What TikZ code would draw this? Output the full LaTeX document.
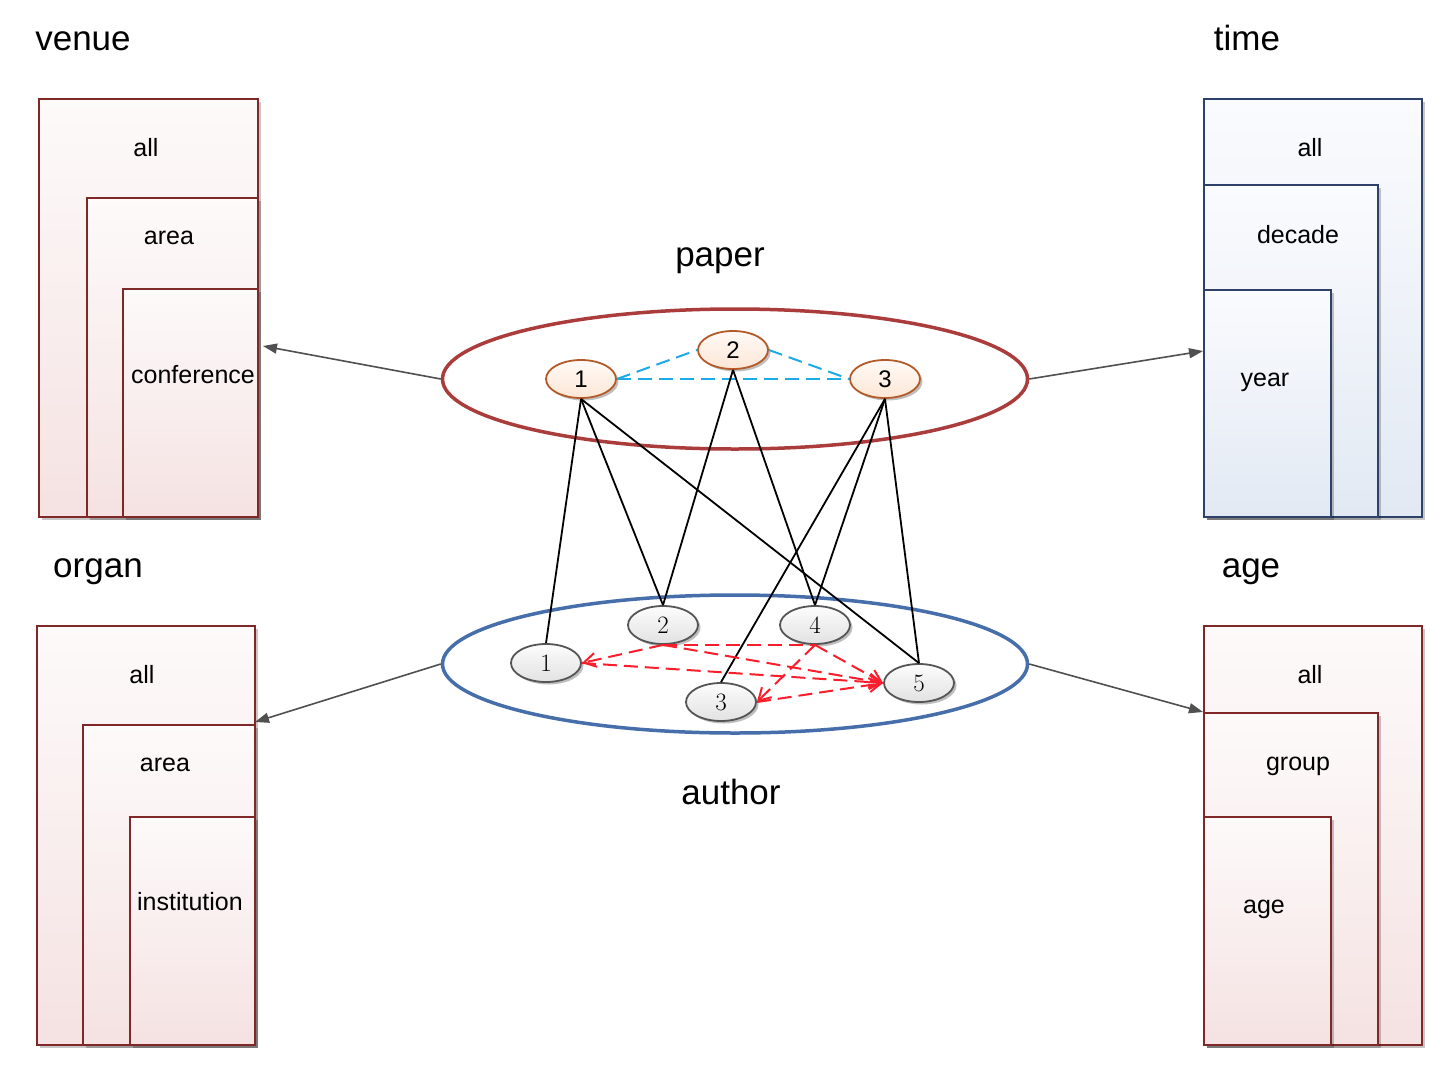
\documentclass[tikz,border=0pt]{standalone}
\usepackage{fontspec}
\setsansfont{Liberation Sans}
\usetikzlibrary{shapes.geometric,arrows.meta,shadows,calc}
\definecolor{boxred}{RGB}{128,40,40}
\definecolor{boxblue}{RGB}{45,65,105}
\definecolor{rtop}{RGB}{253,250,250}
\definecolor{rbot}{RGB}{245,226,226}
\definecolor{btop}{RGB}{250,251,254}
\definecolor{bbot}{RGB}{226,233,243}
\definecolor{pred}{RGB}{170,60,60}
\definecolor{ablue}{RGB}{70,110,170}
\definecolor{porange}{RGB}{180,90,40}
\definecolor{ptop}{RGB}{255,250,246}
\definecolor{pbot}{RGB}{252,230,214}
\definecolor{agray}{RGB}{85,85,85}
\definecolor{atop}{RGB}{252,252,252}
\definecolor{abot}{RGB}{226,226,226}
\definecolor{dred}{RGB}{250,30,45}
\definecolor{dblue}{RGB}{30,170,230}
\definecolor{arrgray}{RGB}{80,80,80}
\begin{document}
\begin{tikzpicture}[x=1pt,y=-1pt,
  boxbase/.style={line width=2pt, anchor=north west, inner sep=0pt,
    drop shadow={shadow xshift=2.5pt,shadow yshift=-2.5pt,opacity=0.22,fill=black}},
  rbox/.style={boxbase, draw=boxred, top color=rtop, bottom color=rbot},
  bbox/.style={boxbase, draw=boxblue, top color=btop, bottom color=bbot},
  title/.style={font=\sffamily\fontsize{35}{40}\selectfont},
  lab/.style={font=\sffamily\fontsize{25}{30}\selectfont},
  pnode/.style={ellipse, draw=porange, line width=1.8pt, top color=ptop, bottom color=pbot,
    minimum width=70pt, minimum height=38pt, inner sep=0pt,
    font=\sffamily\fontsize{24}{28}\selectfont,
    drop shadow={shadow xshift=2.5pt,shadow yshift=-2.5pt,opacity=0.25,fill=black}},
  anode/.style={ellipse, draw=agray, line width=1.8pt, top color=atop, bottom color=abot,
    minimum width=70pt, minimum height=38pt, inner sep=0pt,
    font=\fontsize{25}{29}\selectfont,
    drop shadow={shadow xshift=2.5pt,shadow yshift=-2.5pt,opacity=0.25,fill=black}},
  garrow/.style={draw=arrgray, line width=1.6pt, -{Triangle[length=14pt,width=10pt]}},
  bline/.style={draw=black, line width=1.8pt},
  reddash/.style={draw=dred, line width=2pt, dash pattern=on 14pt off 7pt},
  redarr/.style={reddash, -{Straight Barb[length=12pt,width=14pt,line width=2pt]}},
  bluedash/.style={draw=dblue, line width=2pt, dash pattern=on 14pt off 7pt},
]
\useasboundingbox (0,0) rectangle (1456,1076);
\fill[white] (0,0) rectangle (1456,1076);

% ---------- venue ----------
\node[title] (tvenue) at (83,41) {venue};
\node[rbox, minimum width=219pt, minimum height=418pt] (v1) at (38,98) {};
\node[rbox, minimum width=171pt, minimum height=319pt] (v2) at (86,197) {};
\node[rbox, minimum width=135pt, minimum height=228pt] (v3) at (122,288) {};
\node[lab] (lv1) at (146,148) {all};
\node[lab] (lv2) at (169,238) {area};
\node[lab] (lv3) at (193,375) {conference};

% ---------- time ----------
\node[title] (ttime) at (1247,38) {time};
\node[bbox, minimum width=218pt, minimum height=418pt] (t1) at (1203,98) {};
\node[bbox, minimum width=174pt, minimum height=332pt] (t2) at (1203,184) {};
\node[bbox, minimum width=127pt, minimum height=227pt] (t3) at (1203,289) {};
\node[lab] (lt1) at (1310,148) {all};
\node[lab] (lt2) at (1298,235) {decade};
\node[lab] (lt3) at (1265,382) {year};

% ---------- organ ----------
\node[title] (torgan) at (98,572) {organ};
\node[rbox, minimum width=218pt, minimum height=419pt] (o1) at (36,625) {};
\node[rbox, minimum width=172pt, minimum height=320pt] (o2) at (82,724) {};
\node[rbox, minimum width=125pt, minimum height=228pt] (o3) at (129,816) {};
\node[lab] (lo1) at (142,675) {all};
\node[lab] (lo2) at (165,765) {area};
\node[lab] (lo3) at (190,902) {institution};

% ---------- age ----------
\node[title] (tage) at (1251,572) {age};
\node[rbox, minimum width=218pt, minimum height=419pt] (g1) at (1203,625) {};
\node[rbox, minimum width=174pt, minimum height=332pt] (g2) at (1203,712) {};
\node[rbox, minimum width=127pt, minimum height=228pt] (g3) at (1203,816) {};
\node[lab] (lg1) at (1310,675) {all};
\node[lab] (lg2) at (1298,766) {group};
\node[lab] (lg3) at (1264,909) {age};

% ---------- big ellipses ----------
\node[title] (tpaper) at (720,261) {paper};
\node[title] (tauthor) at (731,792) {author};
\node[ellipse, draw=pred, line width=3.5pt, minimum width=585pt, minimum height=140pt, inner sep=0pt] (paper) at (735,379) {};
\node[ellipse, draw=ablue, line width=3.5pt, minimum width=585pt, minimum height=138pt, inner sep=0pt] (author) at (735,664) {};

% arrows to boxes
\coordinate (vt) at (263,346);
\coordinate (tt) at (1203,351);
\coordinate (ot) at (255,722);
\coordinate (gt) at (1203,712);
\draw[garrow] (paper.west) -- (vt);
\draw[garrow] (paper.east) -- (tt);
\draw[garrow] (author.west) -- (ot);
\draw[garrow] (author.east) -- (gt);

% ---------- small nodes ----------
\node[pnode] (p1) at (581,379) {1};
\node[pnode] (p2) at (733,350) {2};
\node[pnode] (p3) at (885,379) {3};

\node[anode] (a1) at (546,663) {1};
\node[anode] (a2) at (663,625) {2};
\node[anode] (a4) at (815,625) {4};
\node[anode] (a3) at (721,702) {3};
\node[anode] (a5) at (919,683) {5};

% blue dashed
\draw[bluedash] (p1.east) -- (p2.west);
\draw[bluedash] (p2.east) -- (p3.west);
\draw[bluedash] (p1.east) -- (p3.west);

% black lines
\draw[bline] (p1.south) -- (a1.north);
\draw[bline] (p1.south) -- (a2.north);
\draw[bline] (p1.south) -- (a5.north);
\draw[bline] (p2.south) -- (a2.north);
\draw[bline] (p2.south) -- (a4.north);
\draw[bline] (p3.south) -- (a3.north);
\draw[bline] (p3.south) -- (a4.north);
\draw[bline] (p3.south) -- (a5.north);

% red dashed
\draw[reddash] (a2.south) -- (a4.south);
\draw[redarr] (a2.south) -- (a1.east);
\draw[redarr] (a1.east) -- (a5.west);
\draw[redarr] (a2.south) -- (a5.west);
\draw[redarr] (a4.south) -- (a5.west);
\draw[redarr] (a3.east) -- (a5.west);
\draw[redarr] (a4.south) -- (a3.east);
\end{tikzpicture}
\end{document}
